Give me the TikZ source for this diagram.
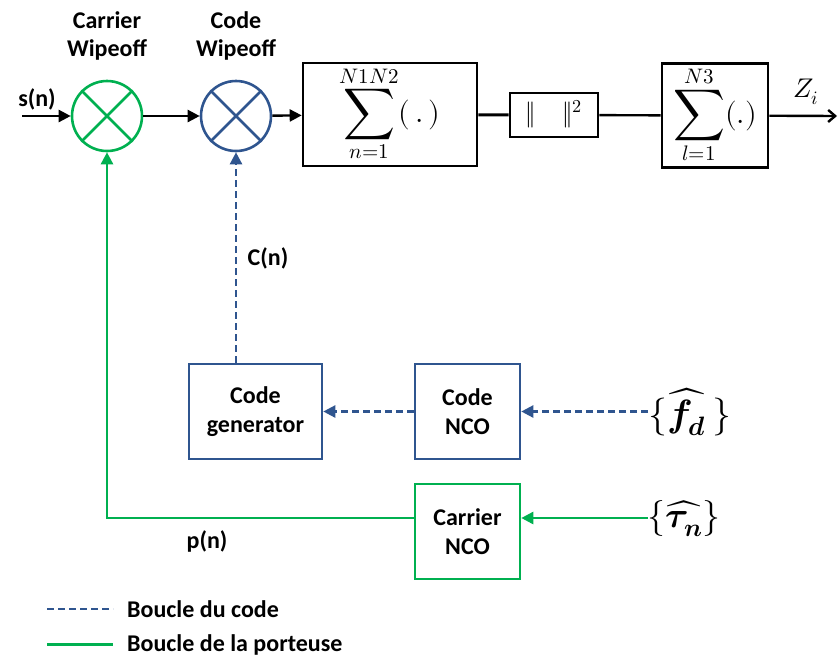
\documentclass[tikz,border=0pt]{standalone}
\usepackage{amsmath,graphicx}
\usepackage{unicode-math}
\setmainfont{Carlito}
\setmathfont{Latin Modern Math}
\usetikzlibrary{arrows.meta}
\definecolor{codeblue}{RGB}{47,85,143}
\definecolor{carriergreen}{RGB}{0,176,80}
\newcommand{\bigsum}[2]{\mathop{\vcenter{\hbox{\scalebox{1.2}{$\displaystyle\sum$}}}}\limits_{#1}^{#2}}
\tikzset{mixer/.style={circle,draw,line width=2.6pt,minimum size=70pt,inner sep=0pt},block/.style={draw,line width=2.6pt,inner sep=0pt,align=center,font=\fontsize{24}{29}\selectfont\bfseries},sig/.style={line width=2.4pt,-{Triangle[length=12pt,width=12pt]}},codeloop/.style={codeblue,line width=2.4pt,dash pattern=on 7pt off 4pt},carrierloop/.style={carriergreen,line width=2.6pt},lbl/.style={inner sep=0pt,align=center,font=\fontsize{24}{28}\selectfont\bfseries},mth/.style={inner sep=0pt,font=\fontsize{30}{34}\selectfont}}

\begin{document}
\begin{tikzpicture}[x=1pt,y=-1pt]
\path[use as bounding box] (0,0) rectangle (838,657);
% mixers
\node[mixer,carriergreen] (cw) at (107,116) {};
\node[mixer,codeblue] (cdw) at (236,116) {};
\draw[carriergreen,line width=2.6pt] (cw.45) -- (cw.225) (cw.135) -- (cw.315);
\draw[codeblue,line width=2.6pt] (cdw.45) -- (cdw.225) (cdw.135) -- (cdw.315);
\node[lbl] (cwlbl) at (107,36) {Carrier\\Wipeoff};
\node[lbl] (cdwlbl) at (236,36) {Code\\Wipeoff};
% top chain
\node[block,minimum width=174pt,minimum height=103pt] (acc) at (390,114.5) {};
\node[mth] (acct) at (390,114) {$\bigsum{n=1}{N1N2}(\,.\,)$};
\node[block,minimum width=88pt,minimum height=44pt] (sq) at (554,115) {};
\node[mth,font=\fontsize{26}{30}\selectfont] (sqt) at (554,114) {$\|\quad\|^2$};
\node[block,minimum width=106pt,minimum height=104pt] (acc2) at (715,115.5) {};
\node[mth] (acc2t) at (715,115) {$\bigsum{l=1}{N3}(.)$};
\coordinate (sin) at (22,116);
\coordinate (zout) at (837,116);
\node[lbl,anchor=south] (slbl) at (37,110) {s(n)};
\node[mth,font=\fontsize{27}{30}\selectfont] (zlbl) at (806,92) {$Z_i$};
\draw[sig] (sin) -- (cw);
\draw[sig] (cw) -- (cdw);
\draw[sig] (cdw) -- (acc);
\draw[line width=3pt] (acc) -- (sq);
\draw[line width=2.4pt] (sq) -- (acc2);
\draw[line width=2.4pt,-{Straight Barb[length=7pt,width=12pt]}] (acc2) -- (zout);
% code loop
\node[block,codeblue,minimum width=133pt,minimum height=95pt] (cgen) at (255.5,411.5) {\textcolor{black}{Code}\\\textcolor{black}{generator}};
\node[block,codeblue,minimum width=105pt,minimum height=95pt] (cnco) at (467.5,411.5) {\textcolor{black}{Code}\\\textcolor{black}{NCO}};
\coordinate (fin) at (648,411.5);
\node[mth,font=\fontsize{38}{42}\selectfont] (fd) at (690,412) {$\{\widehat{\symbfit{f}_{\symbfit{d}}}\,\}$};
\draw[codeloop,-{Triangle[length=12pt,width=12pt]}] (fin) -- (cnco);
\draw[codeloop,-{Triangle[length=12pt,width=12pt]}] (cnco) -- (cgen);
\draw[codeloop,-{Triangle[length=12pt,width=12pt]}] (cdw.south |- cgen.north) -- (cdw.south);
\node[lbl] (cn) at (268,258) {C(n)};
% carrier loop
\node[block,carriergreen,minimum width=105pt,minimum height=95pt] (carnco) at (467.5,531.5) {\textcolor{black}{Carrier}\\\textcolor{black}{NCO}};
\coordinate (tin) at (648,518);
\node[mth,font=\fontsize{36}{40}\selectfont] (tau) at (684,519) {$\{\widehat{\symbfit{\tau}_{\symbfit{n}}}\}$};
\draw[carrierloop,-{Triangle[length=12pt,width=12pt]}] (tin) -- (tin -| carnco.east);
\draw[carrierloop,-{Triangle[length=12pt,width=12pt]}] (carnco.west |- tin) -| (cw.south);
\node[lbl] (pn) at (207,541) {p(n)};
% legend
\coordinate (lga) at (47,609);
\coordinate (lgb) at (113,609);
\coordinate (lgc) at (47,644);
\coordinate (lgd) at (113,644);
\draw[codeloop] (lga) -- (lgb);
\draw[carrierloop,line width=3pt] (lgc) -- (lgd);
\node[lbl,anchor=west] (lgcode) at (127,609) {Boucle du code};
\node[lbl,anchor=west] (lgcar) at (127,645) {Boucle de la porteuse};
\end{tikzpicture}
\end{document}
